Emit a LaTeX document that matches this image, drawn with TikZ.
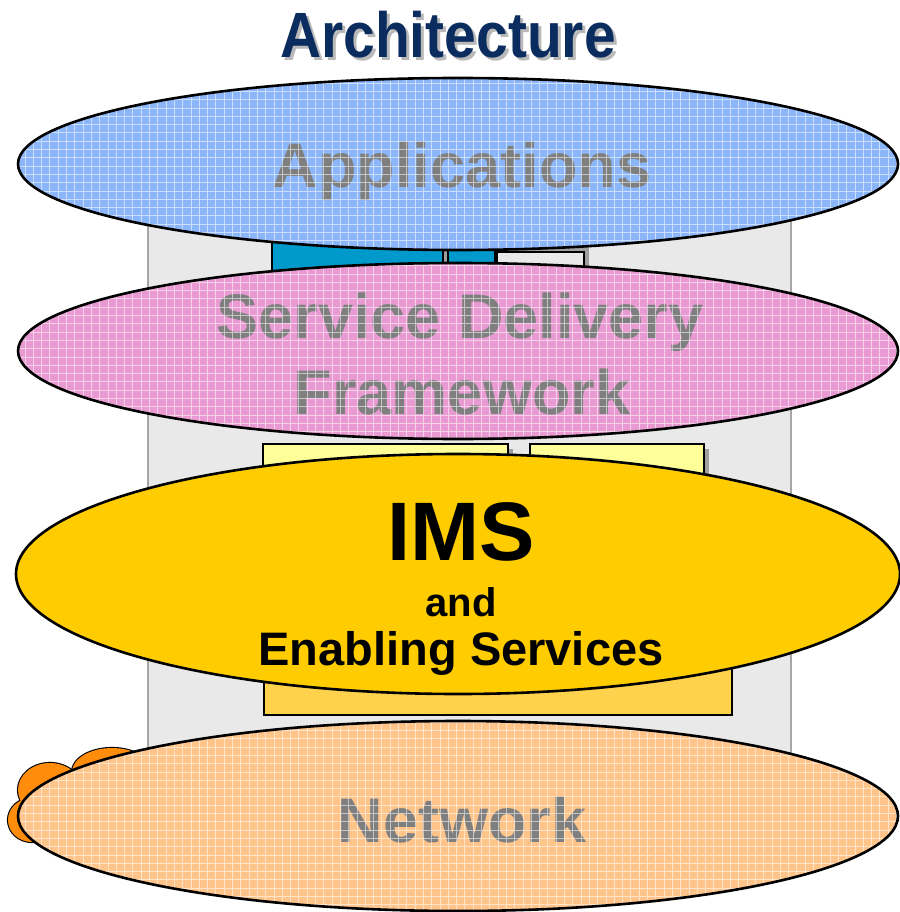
\documentclass[tikz,border=0pt]{standalone}
\usepackage{fontspec}
\setmainfont{Liberation Sans}
\definecolor{navy}{HTML}{0B2C5E}
\definecolor{appblue}{HTML}{8CB6FA}
\definecolor{sdfpink}{HTML}{E99AD2}
\definecolor{imsyel}{HTML}{FFCC00}
\definecolor{netorg}{HTML}{FFC48A}
\definecolor{cloudorg}{HTML}{FF8C0A}
\definecolor{boxblue}{HTML}{0099CC}
\definecolor{paleyel}{HTML}{FFFF99}
\definecolor{lowyel}{HTML}{FFD24D}
\definecolor{bggray}{HTML}{E9E9E9}
\definecolor{txtgray}{HTML}{7F7F7F}
\tikzset{
  layer/.style={draw=black, line width=2.6pt},
  gridlines/.style={draw=white, line width=0.7pt, opacity=0.55},
  boxshape/.style={draw=black, line width=1.8pt},
  shade/.style={fill=gray!75},
  graytext/.style={text=txtgray, font=\bfseries\fontsize{63}{70}\selectfont, anchor=base, inner sep=0pt},
  blacktext/.style={text=black, font=\bfseries\fontsize{47}{52}\selectfont, anchor=base, inner sep=0pt},
  titletext/.style={font=\bfseries\fontsize{64}{70}\selectfont, anchor=base, inner sep=0pt, xscale=0.89},
}
% #1,#2 centre, #3,#4 radii, #5 colour, #6 texts drawn below the grid
\newcommand{\gridellipse}[6]{%
  \fill[#5] (#1,#2) ellipse [x radius=#3, y radius=#4];
  #6
  \begin{scope}
    \clip (#1,#2) ellipse [x radius=#3, y radius=#4];
    \draw[gridlines] (0,0) grid[step=8.3pt] (899,912);
  \end{scope}
  \draw[layer] (#1,#2) ellipse [x radius=#3, y radius=#4];
}
\begin{document}
\begin{tikzpicture}[x=1pt,y=-1pt]
\useasboundingbox (0,0) rectangle (899,912);
\fill[white] (0,0) rectangle (899,912);
% background pillar
\draw[draw=gray!70, line width=1.5pt, fill=bggray] (148,210) rectangle (791,800);
% blue boxes between Applications and SDF
\fill[shade] (277,225) rectangle (448,305);
\draw[boxshape, fill=boxblue] (272,220) rectangle (443,300);
\fill[shade] (453,225) rectangle (500,305);
\draw[boxshape, fill=boxblue] (448,220) rectangle (495,300);
\fill[shade] (502,240) rectangle (589,305);
\draw[boxshape, fill=bggray] (497,252) rectangle (584,300);
% Applications
\gridellipse{458}{164}{440}{86}{appblue}{\node[graytext] (apps) at (462,188) {Applications};}
% Service Delivery Framework
\gridellipse{458}{351}{440}{88}{sdfpink}{%
  \node[graytext] (sdf1) at (460,338) {Service Delivery};
  \node[graytext] (sdf2) at (462,414) {Framework};}
% yellow boxes
\fill[shade] (268,449) rectangle (513,560);
\draw[boxshape, fill=paleyel] (263,444) rectangle (508,555);
\fill[shade] (535,449) rectangle (709,560);
\draw[boxshape, fill=paleyel] (530,444) rectangle (704,555);
\draw[boxshape, fill=lowyel] (264,600) rectangle (732,715);
% IMS
\fill[imsyel] (458,574) ellipse [x radius=442, y radius=120];
\draw[layer] (458,574) ellipse [x radius=442, y radius=120];
\node[text=black, font=\bfseries\fontsize{83}{90}\selectfont, anchor=base, inner sep=0pt] (ims) at (461,560) {IMS};
\node[blacktext, font=\bfseries\fontsize{40}{46}\selectfont] (and) at (461,616) {and};
\node[blacktext] (enab) at (461,665) {Enabling Services};
% cloud behind Network
\foreach \cx/\cy/\rx/\ry in {112/772/40/24, 50/790/32/27, 32/820/24/22}
  \draw[line width=2.2pt] (\cx,\cy) ellipse [x radius=\rx, y radius=\ry];
\foreach \cx/\cy/\rx/\ry in {112/772/40/24, 50/790/32/27, 32/820/24/22}
  \fill[cloudorg] (\cx,\cy) ellipse [x radius=\rx, y radius=\ry];
% Network
\gridellipse{458}{816}{440}{95}{netorg}{\node[graytext] (net) at (462,842) {Network};}
% title
\node[titletext, text=gray!55] (archshadow) at (451,61) {Architecture};
\node[titletext, text=navy] (arch) at (448,58) {Architecture};
\end{tikzpicture}
\end{document}
